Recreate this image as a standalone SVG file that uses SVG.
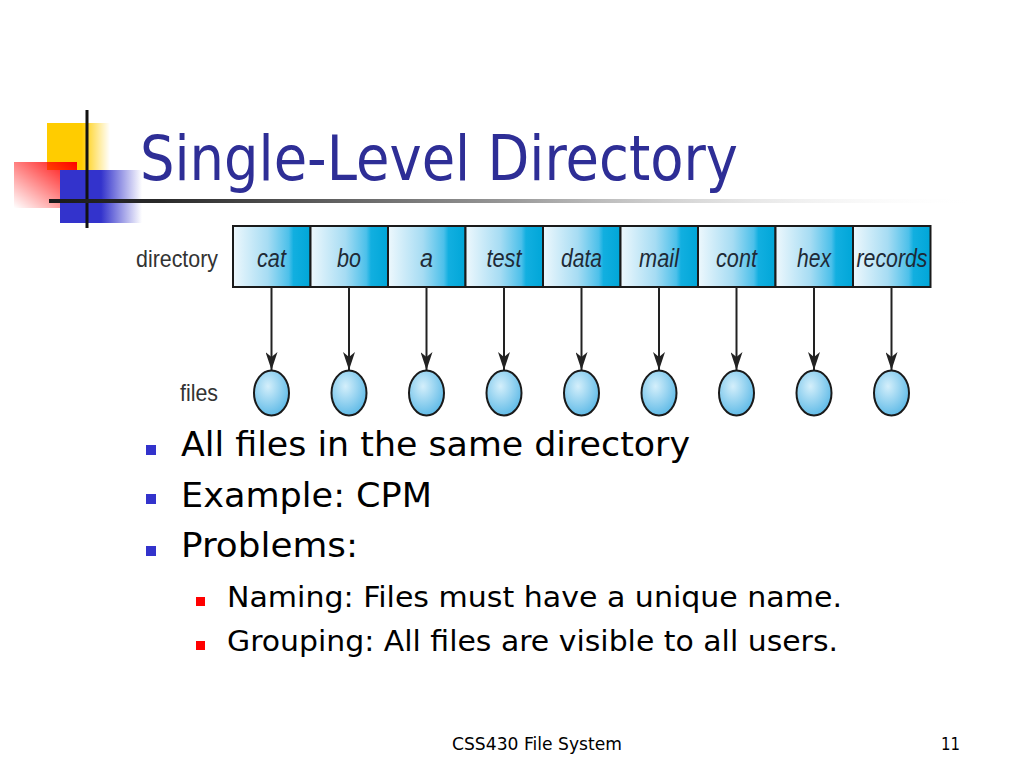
<svg xmlns="http://www.w3.org/2000/svg" width="1024" height="768" viewBox="0 0 1024 768">
<defs>
<style>
.title{font-family:"DejaVu Sans","Liberation Sans",sans-serif;font-size:62px;fill:#2e2e96}
.b1{font-family:"DejaVu Sans","Liberation Sans",sans-serif;font-size:33px;fill:#000}
.b2{font-family:"DejaVu Sans","Liberation Sans",sans-serif;font-size:29px;fill:#000}
.foot{font-family:"DejaVu Sans","Liberation Sans",sans-serif;font-size:18px;fill:#000}
.lbl{font-family:"Liberation Sans",Arial,sans-serif;font-size:24px;fill:#333}
.cl{font-family:"Liberation Sans",Arial,sans-serif;font-size:25px;font-style:italic;fill:#1e2a36;text-anchor:middle}
.cell{fill:url(#cellG);stroke:#1a1a1a;stroke-width:2}
.file{fill:url(#fileG);stroke:#1a1a1a;stroke-width:2}
.conn{stroke:#222;stroke-width:2;fill:none;marker-end:url(#arr)}
</style>
<linearGradient id="cellG" x1="0" y1="0" x2="1" y2="0">
<stop offset="0" stop-color="#eef8fd"/>
<stop offset="0.45" stop-color="#a6dcf3"/>
<stop offset="0.72" stop-color="#4cc0ea"/>
<stop offset="0.78" stop-color="#12afe0"/>
<stop offset="1" stop-color="#00a6d8"/>
</linearGradient>
<radialGradient id="fileG" cx="0.4" cy="0.35" r="0.7">
<stop offset="0" stop-color="#d4effb"/>
<stop offset="1" stop-color="#5ab8e6"/>
</radialGradient>
<linearGradient id="lineG" x1="0" y1="0" x2="1" y2="0">
<stop offset="0" stop-color="#1a1a1a"/>
<stop offset="0.12" stop-color="#2a2a2a"/>
<stop offset="0.5" stop-color="#9a9a9a"/>
<stop offset="1" stop-color="#ffffff" stop-opacity="0"/>
</linearGradient>
<linearGradient id="yelG" x1="0" y1="0" x2="1" y2="0">
<stop offset="0" stop-color="#ffcc00"/>
<stop offset="0.55" stop-color="#ffcc00"/>
<stop offset="1" stop-color="#ffcc00" stop-opacity="0"/>
</linearGradient>
<linearGradient id="bluG" x1="0" y1="0" x2="1" y2="0">
<stop offset="0" stop-color="#3333cc"/>
<stop offset="0.5" stop-color="#3333cc"/>
<stop offset="1" stop-color="#3333cc" stop-opacity="0"/>
</linearGradient>
<linearGradient id="redG" x1="1" y1="0" x2="0" y2="1">
<stop offset="0" stop-color="#ff0000"/>
<stop offset="1" stop-color="#ff0000" stop-opacity="0"/>
</linearGradient>
<marker id="arr" viewBox="0 0 18 12" refX="18" refY="6" markerWidth="18" markerHeight="12" markerUnits="userSpaceOnUse" orient="auto">
<path d="M0,0 L18,6 L0,12 L5,6 z" fill="#222"/>
</marker>
</defs>
<rect width="1024" height="768" fill="#fff"/>

<g id="logo">
<rect x="47" y="123" width="63" height="47" fill="url(#yelG)"/>
<rect x="14" y="162" width="63" height="46" fill="url(#redG)"/>
<rect x="60" y="170" width="82" height="53" fill="url(#bluG)"/>
<rect x="85.5" y="110" width="3" height="118" fill="#111"/>
<rect x="49" y="199" width="931" height="4" fill="url(#lineG)"/>
</g>

<text class="title" x="140" y="180" textLength="598" lengthAdjust="spacingAndGlyphs">Single-Level Directory</text>

<g id="labels">
<text class="lbl" x="136" y="267" textLength="82" lengthAdjust="spacingAndGlyphs">directory</text>
<text class="lbl" x="180" y="401" textLength="38" lengthAdjust="spacingAndGlyphs">files</text>
</g>

<g id="directory">
<g id="cell-cat"><rect class="cell" x="233" y="226" width="77.5" height="61"/><text class="cl" x="271.5" y="267" textLength="29" lengthAdjust="spacingAndGlyphs">cat</text></g>
<g id="cell-bo"><rect class="cell" x="310.5" y="226" width="77.5" height="61"/><text class="cl" x="349" y="267" textLength="24" lengthAdjust="spacingAndGlyphs">bo</text></g>
<g id="cell-a"><rect class="cell" x="388" y="226" width="77.5" height="61"/><text class="cl" x="426.5" y="267" textLength="13" lengthAdjust="spacingAndGlyphs">a</text></g>
<g id="cell-test"><rect class="cell" x="465.5" y="226" width="77.5" height="61"/><text class="cl" x="504" y="267" textLength="35" lengthAdjust="spacingAndGlyphs">test</text></g>
<g id="cell-data"><rect class="cell" x="543" y="226" width="77.5" height="61"/><text class="cl" x="581.5" y="267" textLength="41" lengthAdjust="spacingAndGlyphs">data</text></g>
<g id="cell-mail"><rect class="cell" x="620.5" y="226" width="77.5" height="61"/><text class="cl" x="659" y="267" textLength="40" lengthAdjust="spacingAndGlyphs">mail</text></g>
<g id="cell-cont"><rect class="cell" x="698" y="226" width="77.5" height="61"/><text class="cl" x="736.5" y="267" textLength="41" lengthAdjust="spacingAndGlyphs">cont</text></g>
<g id="cell-hex"><rect class="cell" x="775.5" y="226" width="77.5" height="61"/><text class="cl" x="814" y="267" textLength="34" lengthAdjust="spacingAndGlyphs">hex</text></g>
<g id="cell-records"><rect class="cell" x="853" y="226" width="77.5" height="61"/><text class="cl" x="892" y="267" textLength="71" lengthAdjust="spacingAndGlyphs">records</text></g>
</g>

<g id="connectors">
<line class="conn" x1="271.5" y1="287" x2="271.5" y2="370"/>
<line class="conn" x1="349" y1="287" x2="349" y2="370"/>
<line class="conn" x1="426.5" y1="287" x2="426.5" y2="370"/>
<line class="conn" x1="504" y1="287" x2="504" y2="370"/>
<line class="conn" x1="581.5" y1="287" x2="581.5" y2="370"/>
<line class="conn" x1="659" y1="287" x2="659" y2="370"/>
<line class="conn" x1="736.5" y1="287" x2="736.5" y2="370"/>
<line class="conn" x1="814" y1="287" x2="814" y2="370"/>
<line class="conn" x1="891.5" y1="287" x2="891.5" y2="370"/>
</g>

<g id="files">
<g id="file-cat"><ellipse class="file" cx="271.5" cy="393" rx="17.5" ry="22.5"/></g>
<g id="file-bo"><ellipse class="file" cx="349" cy="393" rx="17.5" ry="22.5"/></g>
<g id="file-a"><ellipse class="file" cx="426.5" cy="393" rx="17.5" ry="22.5"/></g>
<g id="file-test"><ellipse class="file" cx="504" cy="393" rx="17.5" ry="22.5"/></g>
<g id="file-data"><ellipse class="file" cx="581.5" cy="393" rx="17.5" ry="22.5"/></g>
<g id="file-mail"><ellipse class="file" cx="659" cy="393" rx="17.5" ry="22.5"/></g>
<g id="file-cont"><ellipse class="file" cx="736.5" cy="393" rx="17.5" ry="22.5"/></g>
<g id="file-hex"><ellipse class="file" cx="814" cy="393" rx="17.5" ry="22.5"/></g>
<g id="file-records"><ellipse class="file" cx="891.5" cy="393" rx="17.5" ry="22.5"/></g>
</g>

<g id="bullets">
<rect x="146" y="445" width="10" height="10" fill="#3333cc"/>
<text class="b1" x="181" y="456" textLength="509" lengthAdjust="spacingAndGlyphs">All files in the same directory</text>
<rect x="146" y="494" width="10" height="10" fill="#3333cc"/>
<text class="b1" x="181" y="507" textLength="251" lengthAdjust="spacingAndGlyphs">Example: CPM</text>
<rect x="146" y="546" width="10" height="10" fill="#3333cc"/>
<text class="b1" x="181" y="557" textLength="177" lengthAdjust="spacingAndGlyphs">Problems:</text>
<rect x="196" y="597" width="9" height="9" fill="#ff0000"/>
<text class="b2" x="227" y="607" textLength="615" lengthAdjust="spacingAndGlyphs">Naming: Files must have a unique name.</text>
<rect x="196" y="641" width="9" height="9" fill="#ff0000"/>
<text class="b2" x="227" y="651" textLength="611" lengthAdjust="spacingAndGlyphs">Grouping: All files are visible to all users.</text>
</g>

<g id="footer">
<text class="foot" x="452" y="750" textLength="170" lengthAdjust="spacingAndGlyphs">CSS430 File System</text>
<text class="foot" x="941" y="750" textLength="19" lengthAdjust="spacingAndGlyphs">11</text>
</g>
</svg>
